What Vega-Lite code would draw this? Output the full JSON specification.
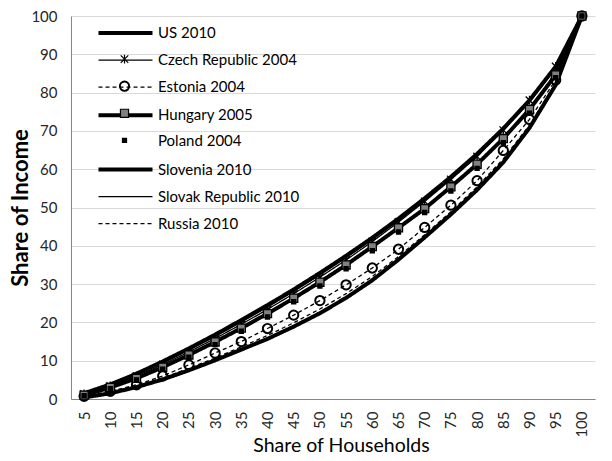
{
  "$schema": "https://vega.github.io/schema/vega-lite/v6.json",
  "autosize": "none",
  "width": 524,
  "height": 383,
  "padding": {"left": 71, "top": 16, "right": 17, "bottom": 62},
  "background": "white",
  "config": {"view": {"stroke": null}, "font": "Lato"},
  "data": {"values": [
    {"s":"US 2010","x":5,"y":0.4},{"s":"US 2010","x":10,"y":1.5},{"s":"US 2010","x":15,"y":3.1},{"s":"US 2010","x":20,"y":5.1},{"s":"US 2010","x":25,"y":7.5},{"s":"US 2010","x":30,"y":10.1},{"s":"US 2010","x":35,"y":12.9},{"s":"US 2010","x":40,"y":15.7},{"s":"US 2010","x":45,"y":18.9},{"s":"US 2010","x":50,"y":22.4},{"s":"US 2010","x":55,"y":26.4},{"s":"US 2010","x":60,"y":31.0},{"s":"US 2010","x":65,"y":36.4},{"s":"US 2010","x":70,"y":42.2},{"s":"US 2010","x":75,"y":48.2},{"s":"US 2010","x":80,"y":54.6},{"s":"US 2010","x":85,"y":61.8},{"s":"US 2010","x":90,"y":70.8},{"s":"US 2010","x":95,"y":82.0},{"s":"US 2010","x":100,"y":100},
    {"s":"Czech Republic 2004","x":5,"y":1.3},{"s":"Czech Republic 2004","x":10,"y":3.4},{"s":"Czech Republic 2004","x":15,"y":6.0},{"s":"Czech Republic 2004","x":20,"y":9.0},{"s":"Czech Republic 2004","x":25,"y":12.3},{"s":"Czech Republic 2004","x":30,"y":15.8},{"s":"Czech Republic 2004","x":35,"y":19.5},{"s":"Czech Republic 2004","x":40,"y":23.4},{"s":"Czech Republic 2004","x":45,"y":27.5},{"s":"Czech Republic 2004","x":50,"y":31.8},{"s":"Czech Republic 2004","x":55,"y":36.3},{"s":"Czech Republic 2004","x":60,"y":41.1},{"s":"Czech Republic 2004","x":65,"y":46.2},{"s":"Czech Republic 2004","x":70,"y":51.6},{"s":"Czech Republic 2004","x":75,"y":57.3},{"s":"Czech Republic 2004","x":80,"y":63.3},{"s":"Czech Republic 2004","x":85,"y":70.2},{"s":"Czech Republic 2004","x":90,"y":78.0},{"s":"Czech Republic 2004","x":95,"y":86.8},{"s":"Czech Republic 2004","x":100,"y":100},
    {"s":"Estonia 2004","x":5,"y":0.7},{"s":"Estonia 2004","x":10,"y":2.0},{"s":"Estonia 2004","x":15,"y":3.7},{"s":"Estonia 2004","x":20,"y":6.0},{"s":"Estonia 2004","x":25,"y":8.9},{"s":"Estonia 2004","x":30,"y":12.0},{"s":"Estonia 2004","x":35,"y":15.0},{"s":"Estonia 2004","x":40,"y":18.4},{"s":"Estonia 2004","x":45,"y":21.9},{"s":"Estonia 2004","x":50,"y":25.7},{"s":"Estonia 2004","x":55,"y":29.8},{"s":"Estonia 2004","x":60,"y":34.2},{"s":"Estonia 2004","x":65,"y":39.1},{"s":"Estonia 2004","x":70,"y":44.8},{"s":"Estonia 2004","x":75,"y":50.6},{"s":"Estonia 2004","x":80,"y":57.0},{"s":"Estonia 2004","x":85,"y":64.9},{"s":"Estonia 2004","x":90,"y":73.0},{"s":"Estonia 2004","x":95,"y":83.3},{"s":"Estonia 2004","x":100,"y":100},
    {"s":"Hungary 2005","x":5,"y":1.0},{"s":"Hungary 2005","x":10,"y":3.0},{"s":"Hungary 2005","x":15,"y":5.4},{"s":"Hungary 2005","x":20,"y":8.3},{"s":"Hungary 2005","x":25,"y":11.5},{"s":"Hungary 2005","x":30,"y":14.9},{"s":"Hungary 2005","x":35,"y":18.5},{"s":"Hungary 2005","x":40,"y":22.3},{"s":"Hungary 2005","x":45,"y":26.3},{"s":"Hungary 2005","x":50,"y":30.5},{"s":"Hungary 2005","x":55,"y":35.0},{"s":"Hungary 2005","x":60,"y":39.8},{"s":"Hungary 2005","x":65,"y":44.7},{"s":"Hungary 2005","x":70,"y":49.7},{"s":"Hungary 2005","x":75,"y":55.4},{"s":"Hungary 2005","x":80,"y":61.3},{"s":"Hungary 2005","x":85,"y":68.0},{"s":"Hungary 2005","x":90,"y":75.6},{"s":"Hungary 2005","x":95,"y":84.6},{"s":"Hungary 2005","x":100,"y":100},
    {"s":"Poland 2004","x":5,"y":0.9},{"s":"Poland 2004","x":10,"y":2.7},{"s":"Poland 2004","x":15,"y":5.0},{"s":"Poland 2004","x":20,"y":7.8},{"s":"Poland 2004","x":25,"y":10.9},{"s":"Poland 2004","x":30,"y":14.2},{"s":"Poland 2004","x":35,"y":17.7},{"s":"Poland 2004","x":40,"y":21.4},{"s":"Poland 2004","x":45,"y":25.4},{"s":"Poland 2004","x":50,"y":29.5},{"s":"Poland 2004","x":55,"y":34.0},{"s":"Poland 2004","x":60,"y":38.7},{"s":"Poland 2004","x":65,"y":43.6},{"s":"Poland 2004","x":70,"y":48.7},{"s":"Poland 2004","x":75,"y":54.3},{"s":"Poland 2004","x":80,"y":60.2},{"s":"Poland 2004","x":85,"y":66.9},{"s":"Poland 2004","x":90,"y":74.6},{"s":"Poland 2004","x":95,"y":83.9},{"s":"Poland 2004","x":100,"y":100},
    {"s":"Slovenia 2010","x":5,"y":1.5},{"s":"Slovenia 2010","x":10,"y":3.8},{"s":"Slovenia 2010","x":15,"y":6.6},{"s":"Slovenia 2010","x":20,"y":9.8},{"s":"Slovenia 2010","x":25,"y":13.2},{"s":"Slovenia 2010","x":30,"y":16.8},{"s":"Slovenia 2010","x":35,"y":20.6},{"s":"Slovenia 2010","x":40,"y":24.5},{"s":"Slovenia 2010","x":45,"y":28.6},{"s":"Slovenia 2010","x":50,"y":32.9},{"s":"Slovenia 2010","x":55,"y":37.4},{"s":"Slovenia 2010","x":60,"y":42.1},{"s":"Slovenia 2010","x":65,"y":47.1},{"s":"Slovenia 2010","x":70,"y":52.4},{"s":"Slovenia 2010","x":75,"y":58.0},{"s":"Slovenia 2010","x":80,"y":64.0},{"s":"Slovenia 2010","x":85,"y":70.6},{"s":"Slovenia 2010","x":90,"y":78.0},{"s":"Slovenia 2010","x":95,"y":86.8},{"s":"Slovenia 2010","x":100,"y":100},
    {"s":"Slovak Republic 2010","x":5,"y":1.4},{"s":"Slovak Republic 2010","x":10,"y":3.6},{"s":"Slovak Republic 2010","x":15,"y":6.3},{"s":"Slovak Republic 2010","x":20,"y":9.4},{"s":"Slovak Republic 2010","x":25,"y":12.8},{"s":"Slovak Republic 2010","x":30,"y":16.3},{"s":"Slovak Republic 2010","x":35,"y":20.1},{"s":"Slovak Republic 2010","x":40,"y":24.0},{"s":"Slovak Republic 2010","x":45,"y":28.1},{"s":"Slovak Republic 2010","x":50,"y":32.4},{"s":"Slovak Republic 2010","x":55,"y":36.9},{"s":"Slovak Republic 2010","x":60,"y":41.6},{"s":"Slovak Republic 2010","x":65,"y":46.6},{"s":"Slovak Republic 2010","x":70,"y":51.9},{"s":"Slovak Republic 2010","x":75,"y":57.5},{"s":"Slovak Republic 2010","x":80,"y":63.5},{"s":"Slovak Republic 2010","x":85,"y":70.1},{"s":"Slovak Republic 2010","x":90,"y":77.5},{"s":"Slovak Republic 2010","x":95,"y":86.3},{"s":"Slovak Republic 2010","x":100,"y":100},
    {"s":"Russia 2010","x":5,"y":0.5},{"s":"Russia 2010","x":10,"y":1.7},{"s":"Russia 2010","x":15,"y":3.4},{"s":"Russia 2010","x":20,"y":5.5},{"s":"Russia 2010","x":25,"y":8.0},{"s":"Russia 2010","x":30,"y":10.7},{"s":"Russia 2010","x":35,"y":13.6},{"s":"Russia 2010","x":40,"y":16.6},{"s":"Russia 2010","x":45,"y":19.9},{"s":"Russia 2010","x":50,"y":23.5},{"s":"Russia 2010","x":55,"y":27.5},{"s":"Russia 2010","x":60,"y":32.0},{"s":"Russia 2010","x":65,"y":37.2},{"s":"Russia 2010","x":70,"y":42.9},{"s":"Russia 2010","x":75,"y":48.9},{"s":"Russia 2010","x":80,"y":55.4},{"s":"Russia 2010","x":85,"y":62.7},{"s":"Russia 2010","x":90,"y":71.5},{"s":"Russia 2010","x":95,"y":82.5},{"s":"Russia 2010","x":100,"y":100}
  ]},
  "encoding": {
    "x": {"field": "x", "type": "ordinal", "scale": {"type": "point", "padding": 0.5},
      "axis": {"title": "Share of Households", "labelAngle": -90, "labelFont": "Lato", "labelFontSize": 15, "labelColor": "#262626", "labelPadding": 12, "ticks": false, "domainColor": "#868686", "grid": false, "titleFont": "Lato", "titleFontSize": 19.5, "titleFontWeight": "normal", "titleColor": "#000000", "titlePadding": -1, "titleX": 270}},
    "y": {"field": "y", "type": "quantitative", "scale": {"domain": [0, 100], "nice": false},
      "axis": {"title": "Share of Income", "values": [0,10,20,30,40,50,60,70,80,90,100], "labelFont": "Lato", "labelFontSize": 15, "labelColor": "#262626", "labelPadding": 14, "ticks": false, "domainColor": "#868686", "gridColor": "#d9d9d9", "gridWidth": 1, "titleFont": "Lato", "titleFontSize": 22, "titleFontWeight": "bold", "titleColor": "#000000", "titlePadding": -2}}
  },
  "layer": [
    {
      "mark": {"type": "line", "color": "black", "strokeJoin": "round"},
      "encoding": {
        "strokeDash": {"field": "s", "type": "nominal",
          "scale": {"domain": ["US 2010","Czech Republic 2004","Estonia 2004","Hungary 2005","Poland 2004","Slovenia 2010","Slovak Republic 2010","Russia 2010"],
                    "range": [[1,0],[1,0],[4,3],[1,0],[1,0],[1,0],[1,0],[4,3]]},
          "legend": {"orient": "none", "legendX": 39, "legendY": 1.5, "title": null, "padding": 0, "symbolType": "M-2,0H2", "symbolSize": 729, "symbolStrokeColor": "black", "symbolFillColor": "transparent", "labelOffset": 17, "labelFont": "Lato", "labelFontSize": 15, "labelColor": "#000000", "labelLimit": 300, "rowPadding": 4.1}},
        "strokeWidth": {"field": "s", "type": "nominal",
          "scale": {"type": "ordinal", "domain": ["US 2010","Czech Republic 2004","Estonia 2004","Hungary 2005","Poland 2004","Slovenia 2010","Slovak Republic 2010","Russia 2010"],
                    "range": [4,1.3,1.3,4,0,4,1.3,1.3]},
          "legend": {"orient": "none", "legendX": 39, "legendY": 1.5, "title": null}}
      }
    },
    {
      "mark": {"type": "point", "filled": true, "size": 729, "stroke": "black", "strokeWidth": 1.3, "opacity": 1},
      "encoding": {
        "shape": {"field": "s", "type": "nominal",
          "sort": ["US 2010","Czech Republic 2004","Estonia 2004","Hungary 2005","Poland 2004","Slovenia 2010","Slovak Republic 2010","Russia 2010"],
          "scale": {"range": ["M0,0", "M0,-0.33V0.33M-0.28,-0.28L0.28,0.28M-0.28,0.28L0.28,-0.28", "M0.37,0A0.37,0.37,0,1,1,-0.37,0A0.37,0.37,0,1,1,0.37,0ZM0.32,0A0.32,0.32,0,1,0,-0.32,0A0.32,0.32,0,1,0,0.32,0Z", "M-0.3,-0.3H0.3V0.3H-0.3Z", "M-0.15,-0.15H0.15V0.15H-0.15ZM-0.06,-0.06H0.06V0.06H-0.06Z", "M0,0", "M0,0", "M0,0"]},
          "legend": {"orient": "none", "legendX": 39, "legendY": 1.5, "title": null, "padding": 0, "symbolSize": 729, "symbolFillColor": "#808080", "symbolStrokeColor": "black", "symbolStrokeWidth": 1.2, "labelOffset": 17, "labelFont": "Lato", "labelFontSize": 15, "labelExpr": "' '", "labelLimit": 300, "rowPadding": 4.1, "zindex": 1}},
        "fill": {"field": "s", "type": "nominal",
          "sort": ["US 2010","Czech Republic 2004","Estonia 2004","Hungary 2005","Poland 2004","Slovenia 2010","Slovak Republic 2010","Russia 2010"],
          "scale": {"range": ["transparent", "black", "transparent", "#808080", "black", "transparent", "transparent", "transparent"]},
          "legend": null}
      }
    }
  ]
}
